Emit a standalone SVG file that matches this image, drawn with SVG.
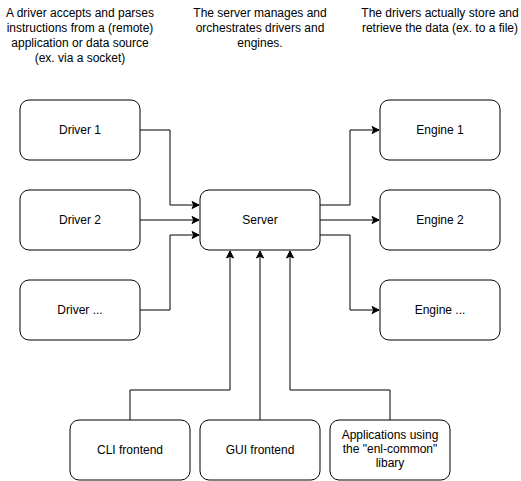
<svg xmlns="http://www.w3.org/2000/svg" width="521" height="481" viewBox="0 0 521 481">
<defs>
<marker id="arr" markerWidth="10" markerHeight="10" refX="8" refY="5" orient="auto" markerUnits="userSpaceOnUse">
<path d="M1,1.5 L8,5 L1,8.5 L2.8,5 Z" fill="#000" stroke="#000" stroke-width="1"/>
</marker>
<style>
.box{fill:#fff;stroke:#000;stroke-width:1}
.t{font-family:"Liberation Sans",Arial,sans-serif;font-size:12px;fill:#000;text-anchor:middle}
.c{fill:none;stroke:#000;stroke-width:1}
</style>
</defs>
<rect width="521" height="481" fill="#fff"/>
<g id="note-drivers"><text class="t" x="80" y="17">A driver accepts and parses</text><text class="t" x="80" y="32">instructions from a (remote)</text><text class="t" x="80" y="47">application or data source</text><text class="t" x="80" y="62">(ex. via a socket)</text></g>
<g id="note-server"><text class="t" x="260" y="17">The server manages and</text><text class="t" x="260" y="32">orchestrates drivers and</text><text class="t" x="260" y="47">engines.</text></g>
<g id="note-engines"><text class="t" x="440" y="17">The drivers actually store and</text><text class="t" x="440" y="32">retrieve the data (ex. to a file)</text></g>
<g id="connectors">
<path class="c" d="M140,130 H170 V205 H199" marker-end="url(#arr)"/>
<path class="c" d="M140,220 H199" marker-end="url(#arr)"/>
<path class="c" d="M140,310 H170 V235 H199" marker-end="url(#arr)"/>
<path class="c" d="M320,205 H350 V130 H379" marker-end="url(#arr)"/>
<path class="c" d="M320,220 H379" marker-end="url(#arr)"/>
<path class="c" d="M320,235 H350 V310 H379" marker-end="url(#arr)"/>
<path class="c" d="M130,420 V390 H230 V251" marker-end="url(#arr)"/>
<path class="c" d="M260,420 V251" marker-end="url(#arr)"/>
<path class="c" d="M390,420 V390 H290 V251" marker-end="url(#arr)"/>
</g>
<g id="driver1"><rect class="box" x="20" y="100" width="120" height="60" rx="9"/><text class="t" x="80" y="134">Driver 1</text></g>
<g id="driver2"><rect class="box" x="20" y="190" width="120" height="60" rx="9"/><text class="t" x="80" y="224">Driver 2</text></g>
<g id="driver3"><rect class="box" x="20" y="280" width="120" height="60" rx="9"/><text class="t" x="80" y="314">Driver ...</text></g>
<g id="server"><rect class="box" x="200" y="190" width="120" height="60" rx="9"/><text class="t" x="260" y="224">Server</text></g>
<g id="engine1"><rect class="box" x="380" y="100" width="120" height="60" rx="9"/><text class="t" x="440" y="134">Engine 1</text></g>
<g id="engine2"><rect class="box" x="380" y="190" width="120" height="60" rx="9"/><text class="t" x="440" y="224">Engine 2</text></g>
<g id="engine3"><rect class="box" x="380" y="280" width="120" height="60" rx="9"/><text class="t" x="440" y="314">Engine ...</text></g>
<g id="cli"><rect class="box" x="70" y="420" width="120" height="60" rx="9"/><text class="t" x="130" y="454">CLI frontend</text></g>
<g id="gui"><rect class="box" x="200" y="420" width="120" height="60" rx="9"/><text class="t" x="260" y="454">GUI frontend</text></g>
<g id="apps"><rect class="box" x="330" y="420" width="120" height="60" rx="9"/><text class="t" x="390" y="439">Applications using</text><text class="t" x="390" y="453">the "enl-common"</text><text class="t" x="390" y="467">libary</text></g>
</svg>
